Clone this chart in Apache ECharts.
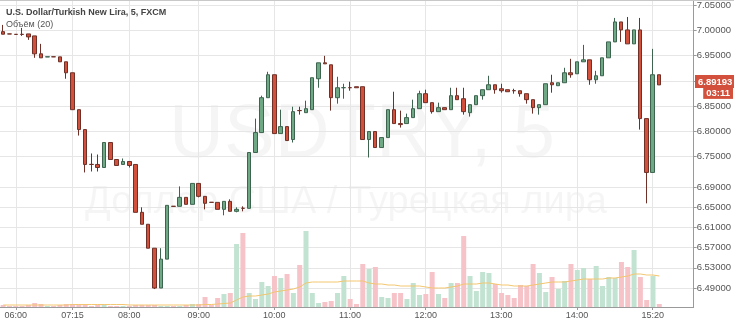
<!DOCTYPE html>
<html><head><meta charset="utf-8">
<script src="https://cdn.jsdelivr.net/npm/echarts@6/dist/echarts.min.js"></script>
<style>html,body{margin:0;padding:0;background:#fff}#c{width:734px;height:323px}</style>
</head><body><div id="c"></div>
<script>
const title = 'U.S. Dollar/Turkish New Lira, 5, FXCM';
const volumeLabel = 'Объём (20)';
const watermark1 = 'USDTRY, 5';
const watermark2 = 'Доллар США / Турецкая лира';
const countdown = '03:11';
const priceTicks = [7.05, 7.00, 6.95, 6.90, 6.85, 6.80, 6.75, 6.69, 6.65, 6.61, 6.57, 6.53, 6.49];
const timeTickIndex = [2, 11, 20, 31, 43, 55, 67, 79, 91, 103];
const timeTickText = ['06:00', '07:15', '08:00', '09:00', '10:00', '11:00', '12:00', '13:00', '14:00', '15:20'];
const barCount = 110;
// [open, close, low, high]
const ohlc = [
[6.9973,6.9922,6.9922,7.0106],[6.9928,6.9926,6.9926,6.9928],[6.9920,6.9918,6.9916,6.9922],[6.9920,6.9918,6.9889,7.0046],
[6.9928,6.9869,6.9810,6.9928],[6.9889,6.9534,6.9455,6.9889],[6.9534,6.9455,6.9455,6.9731],[6.9472,6.9476,6.9472,6.9476],
[6.9476,6.9474,6.9474,6.9476],[6.9474,6.9376,6.9376,6.9474],[6.9376,6.9159,6.9041,6.9376],[6.9159,6.8429,6.8429,6.9159],
[6.8429,6.8035,6.7917,6.8429],[6.8035,6.7345,6.7187,6.8035],[6.7347,6.7345,6.7206,6.7562],[6.7345,6.7285,6.7206,6.7542],
[6.7285,6.7779,6.7285,6.7779],[6.7779,6.7443,6.7443,6.7779],[6.7443,6.7325,6.7325,6.7443],[6.7345,6.7404,6.7345,6.7463],
[6.7404,6.7325,6.7285,6.7404],[6.7345,6.6398,6.6398,6.7345],[6.6398,6.6162,6.6162,6.6497],[6.6162,6.5688,6.5688,6.6162],
[6.5688,6.4900,6.4880,6.5688],[6.4900,6.5472,6.4900,6.5688],[6.5472,6.6536,6.5472,6.6536],[6.6519,6.6515,6.6515,6.6519],
[6.6517,6.6694,6.6517,6.6911],[6.6694,6.6556,6.6556,6.6694],[6.6556,6.6970,6.6556,6.6970],[6.6970,6.6714,6.6694,6.6970],
[6.6714,6.6576,6.6457,6.6714],[6.6597,6.6595,6.6595,6.6597],[6.6595,6.6457,6.6457,6.6595],[6.6457,6.6615,6.6339,6.6615],
[6.6615,6.6418,6.6418,6.6655],[6.6418,6.6457,6.6398,6.6497],[6.6479,6.6477,6.6418,6.6517],[6.6477,6.7582,6.6477,6.7582],
[6.7582,6.7976,6.7582,6.8252],[6.7976,6.8666,6.7976,6.8706],[6.8666,6.9120,6.8666,6.9179],[6.9120,6.7956,6.7956,6.9120],
[6.7956,6.8094,6.7956,6.8429],[6.8094,6.7818,6.7818,6.8094],[6.7838,6.8390,6.7779,6.8488],[6.8412,6.8410,6.8331,6.8488],
[6.8370,6.8449,6.8370,6.8607],[6.8429,6.9061,6.8429,6.9061],[6.9041,6.9356,6.8863,6.9356],[6.9356,6.9336,6.9336,6.9494],
[6.9317,6.8666,6.8410,6.9317],[6.8666,6.8863,6.8548,6.9080],[6.8863,6.8865,6.8646,6.8942],[6.8865,6.8863,6.8804,6.8982],
[6.8883,6.8863,6.8863,6.8883],[6.8883,6.7838,6.7838,6.8883],[6.7838,6.7996,6.7483,6.7996],[6.7996,6.7680,6.7680,6.7996],
[6.7680,6.7877,6.7680,6.7877],[6.7877,6.8429,6.7877,6.8429],[6.8429,6.8154,6.8154,6.8784],[6.8154,6.8134,6.8075,6.8410],
[6.8154,6.8272,6.8154,6.8351],[6.8272,6.8449,6.8272,6.8627],[6.8449,6.8745,6.8449,6.8804],[6.8745,6.8568,6.8568,6.8824],
[6.8568,6.8390,6.8351,6.8568],[6.8390,6.8469,6.8390,6.8568],[6.8469,6.8429,6.8429,6.8469],[6.8429,6.8706,6.8429,6.8863],
[6.8706,6.8627,6.8627,6.8863],[6.8646,6.8390,6.8331,6.8863],[6.8370,6.8528,6.8292,6.8528],[6.8528,6.8706,6.8528,6.8706],
[6.8706,6.8824,6.8627,6.8824],[6.8824,6.8922,6.8824,6.9100],[6.8922,6.8824,6.8745,6.8922],[6.8843,6.8804,6.8765,6.8942],
[6.8824,6.8784,6.8784,6.8824],[6.8806,6.8804,6.8745,6.8843],[6.8804,6.8745,6.8686,6.8804],[6.8745,6.8627,6.8548,6.8745],
[6.8627,6.8469,6.8351,6.8627],[6.8469,6.8528,6.8331,6.8528],[6.8528,6.8942,6.8528,6.8942],[6.8962,6.8922,6.8765,6.9120],
[6.8903,6.8962,6.8903,6.8962],[6.8962,6.9159,6.8962,6.9258],[6.9159,6.9120,6.9061,6.9435],[6.9139,6.9376,6.9139,6.9376],
[6.9376,6.9415,6.9376,6.9711],[6.9415,6.9021,6.8922,6.9415],[6.9021,6.9100,6.8942,6.9198],[6.9100,6.9455,6.9100,6.9455],
[6.9455,6.9770,6.9455,6.9770],[6.9770,7.0165,6.9770,7.0244],[7.0165,7.0007,6.9770,7.0165],[7.0007,6.9731,6.9731,7.0263],
[6.9731,7.0007,6.9731,7.0007],[7.0007,6.8252,6.8035,7.0244],[6.8252,6.7187,6.6576,6.8252],[6.7187,6.9120,6.7187,6.9632],
[6.9120,6.89193,6.89193,6.9120]
];
const volume = [
2,1,1,1,2,4,3,1,1,2,3,3,2,3,1,2,2,1,1,1,1,2,2,2,2,1,1,1,1,2,3,3,
10,2,9,13,14,63,74,14,8,25,21,31,29,33,14,42,76,14,4,5,6,14,31,8,3,43,38,40,10,9,14,14,8,24,12,13,35,13,9,24,24,71,31,16,35,34,23,14,12,9,22,21,43,34,15,30,18,26,43,37,39,28,41,21,30,29,45,40,57,30,7,31,3
];
const volumeMA = [
2,2,2,2,2,2,2,2,2,2,2,2.5,2.5,2.5,2.5,2.5,2.5,2.5,2.5,2.5,2,2,2,2,2,2,2,2,2,2,2,2,
2.5,2.5,3,3.5,4,7,10,11,11,12,13,15,16,17,18,20,24,25,25,25,25,25,26,26,26,26,24,23,23,22,22,21,21,21,21,20,19,19,19,20,21,23,23,23,24,24,23,22,22,21,21,21,22,23,24,25,25,25,26,27,28,28,28,28,29,29,30,31,33,33,32,32,31
];

const FONT = 'Liberation Sans, Arial, sans-serif';
const categories = Array.from({length: barCount}, (_, i) => String(i));
const tickSet = new Set(timeTickIndex);
const tickFn = (idx) => tickSet.has(idx);
const UP = '#6ea884', DOWN = '#d2503c', UPB = '#3d644f', DOWNB = '#6e3027';
const volData = volume.map((v, i) => ({
  value: v,
  itemStyle: { color: ohlc[i][1] >= ohlc[i][0] ? '#c2e3d1' : '#f6c3c8' }
}));

const chart = echarts.init(document.getElementById('c'), null, {renderer: 'canvas'});
const option = {
  animation: false,
  backgroundColor: '#fff',
  textStyle: { fontFamily: FONT },
  grid: [
    { left: 0, right: 40, top: 0, bottom: 16 },
    { left: 0, right: 40, top: 207, bottom: 16 }
  ],
  xAxis: [
    {
      type: 'category', gridIndex: 0, data: categories, boundaryGap: true,
      axisLine: { show: true, lineStyle: { color: '#9a9a9a' } },
      axisTick: { show: true, interval: (i) => tickFn(i), alignWithLabel: true, length: 3, lineStyle: { color: '#9a9a9a' } },
      axisLabel: {
        interval: (i) => tickFn(i), margin: 4, fontSize: 9, color: '#555', fontFamily: FONT,
        formatter: (v, idx) => { const k = timeTickIndex.indexOf(Number(v)); return k >= 0 ? timeTickText[k] : ''; }
      },
      splitLine: { show: true, interval: (i) => tickFn(i), alignWithLabel: true, lineStyle: { color: '#e6e6e6', width: 1 } }
    },
    { type: 'category', gridIndex: 1, data: categories, boundaryGap: true, show: false }
  ],
  yAxis: [
    {
      type: 'value', gridIndex: 0, position: 'right', min: 6.45249, max: 7.05789, scale: true,
      axisLine: { show: true, lineStyle: { color: '#9a9a9a' } },
      axisTick: { show: true, length: 3, customValues: priceTicks, lineStyle: { color: '#9a9a9a' } },
      axisLabel: { customValues: priceTicks, margin: 3, fontSize: 9.5, color: '#555', fontFamily: FONT,
        formatter: (v) => v.toFixed(5) },
      splitLine: { show: true, lineStyle: { color: '#e6e6e6', width: 1 } }
    },
    { type: 'value', gridIndex: 1, min: 0, max: 100, show: false, splitLine: { show: false } }
  ],
  series: [
    {
      type: 'bar', xAxisIndex: 1, yAxisIndex: 1, data: volData, barWidth: 5, z: 1, silent: true
    },
    {
      type: 'line', xAxisIndex: 1, yAxisIndex: 1, data: volumeMA, symbol: 'none', z: 2, silent: true,
      lineStyle: { color: '#f3c66f', width: 1 }
    },
    {
      type: 'candlestick', xAxisIndex: 0, yAxisIndex: 0, data: ohlc, barWidth: 4, z: 3,
      itemStyle: { color: UP, color0: DOWN, borderColor: UPB, borderColor0: DOWNB, borderWidth: 1 }
    }
  ],
  graphic: [
    { id: 'wm1', type: 'text', z: 0, silent: true, x: 362, y: 136,
      style: { text: watermark1, fontSize: 76, fontFamily: FONT, fill: 'rgba(0,0,0,0.04)', align: 'center', verticalAlign: 'middle' } },
    { id: 'wm2', type: 'text', z: 0, silent: true, x: 346, y: 203,
      style: { text: watermark2, fontSize: 38, fontFamily: FONT, fill: 'rgba(0,0,0,0.04)', align: 'center', verticalAlign: 'middle' } },
    { id: 'title', type: 'text', z: 100, x: 6, y: 13,
      style: { text: title, fontSize: 9, fontWeight: 'bold', fontFamily: FONT, fill: '#444', verticalAlign: 'middle' } },
    { id: 'vol', type: 'text', z: 100, x: 6, y: 25,
      style: { text: volumeLabel, fontSize: 9, fontFamily: FONT, fill: '#555', verticalAlign: 'middle' } },
    { id: 'top', type: 'line', z: 100, shape: { x1: 0, y1: 0.5, x2: 734, y2: 0.5 }, style: { stroke: '#c8c8c8', lineWidth: 1 } }
  ]
};
chart.setOption(option);

const lastClose = ohlc[ohlc.length - 1][1];
const py = chart.convertToPixel({ yAxisIndex: 0 }, lastClose);
chart.setOption({
  graphic: [
    { id: 'priceTag', type: 'text', z: 200, x: 695, y: py - 10,
      style: { text: lastClose.toFixed(5), fontSize: 9.5, fontWeight: 'bold', fontFamily: FONT, fill: '#fff',
        backgroundColor: DOWN, padding: [2, 3, 1, 3], verticalAlign: 'top', align: 'left' } },
    { id: 'timeTag', type: 'text', z: 200, x: 733, y: py + 2,
      style: { text: countdown, fontSize: 9.5, fontWeight: 'bold', fontFamily: FONT, fill: '#fff',
        backgroundColor: DOWN, padding: [1, 3, 1, 3], verticalAlign: 'top', align: 'right' } }
  ]
});
</script></body></html>
